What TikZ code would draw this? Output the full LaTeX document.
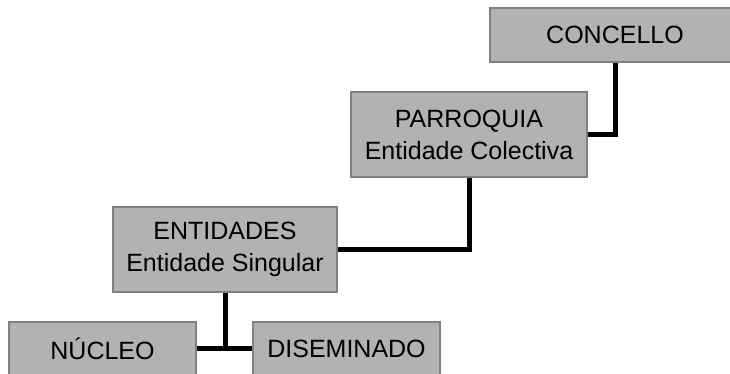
\documentclass[tikz,border=0pt]{standalone}
\usepackage{fontspec}
\setmainfont{Liberation Sans}
\begin{document}
\begin{tikzpicture}[x=1pt,y=-1pt,
  box/.style={draw=black!50,line width=1.2pt,fill=black!30,rectangle,inner sep=0pt,
    align=center,font=\fontsize{25}{32}\selectfont,text=black},
  link/.style={line width=5pt,black}]
\useasboundingbox (0,0) rectangle (730,374);
\clip (0,0) rectangle (730,374);
\node[box,minimum width=250pt,minimum height=54pt] (con) at (615,35) {CONCELLO};
\node[box,minimum width=236pt,minimum height=85pt] (par) at (469,134.5) {PARROQUIA\\Entidade Colectiva};
\node[box,minimum width=224pt,minimum height=85pt] (ent) at (225,249.5) {ENTIDADES\\Entidade Singular};
\node[box,minimum width=187pt,minimum height=56pt] (nuc) at (102.5,350) {\raisebox{3pt}{NÚCLEO}};
\node[box,minimum width=187pt,minimum height=56pt] (dis) at (346.5,350) {\raisebox{3pt}{DISEMINADO}};
\coordinate (j) at (225,348);
\draw[link] (con.south) |- (par.east);
\draw[link] (par.south) |- (ent.east);
\draw[link] (ent.south) -- (j);
\draw[link] (nuc.east |- j) -- (dis.west |- j);
\end{tikzpicture}
\end{document}
